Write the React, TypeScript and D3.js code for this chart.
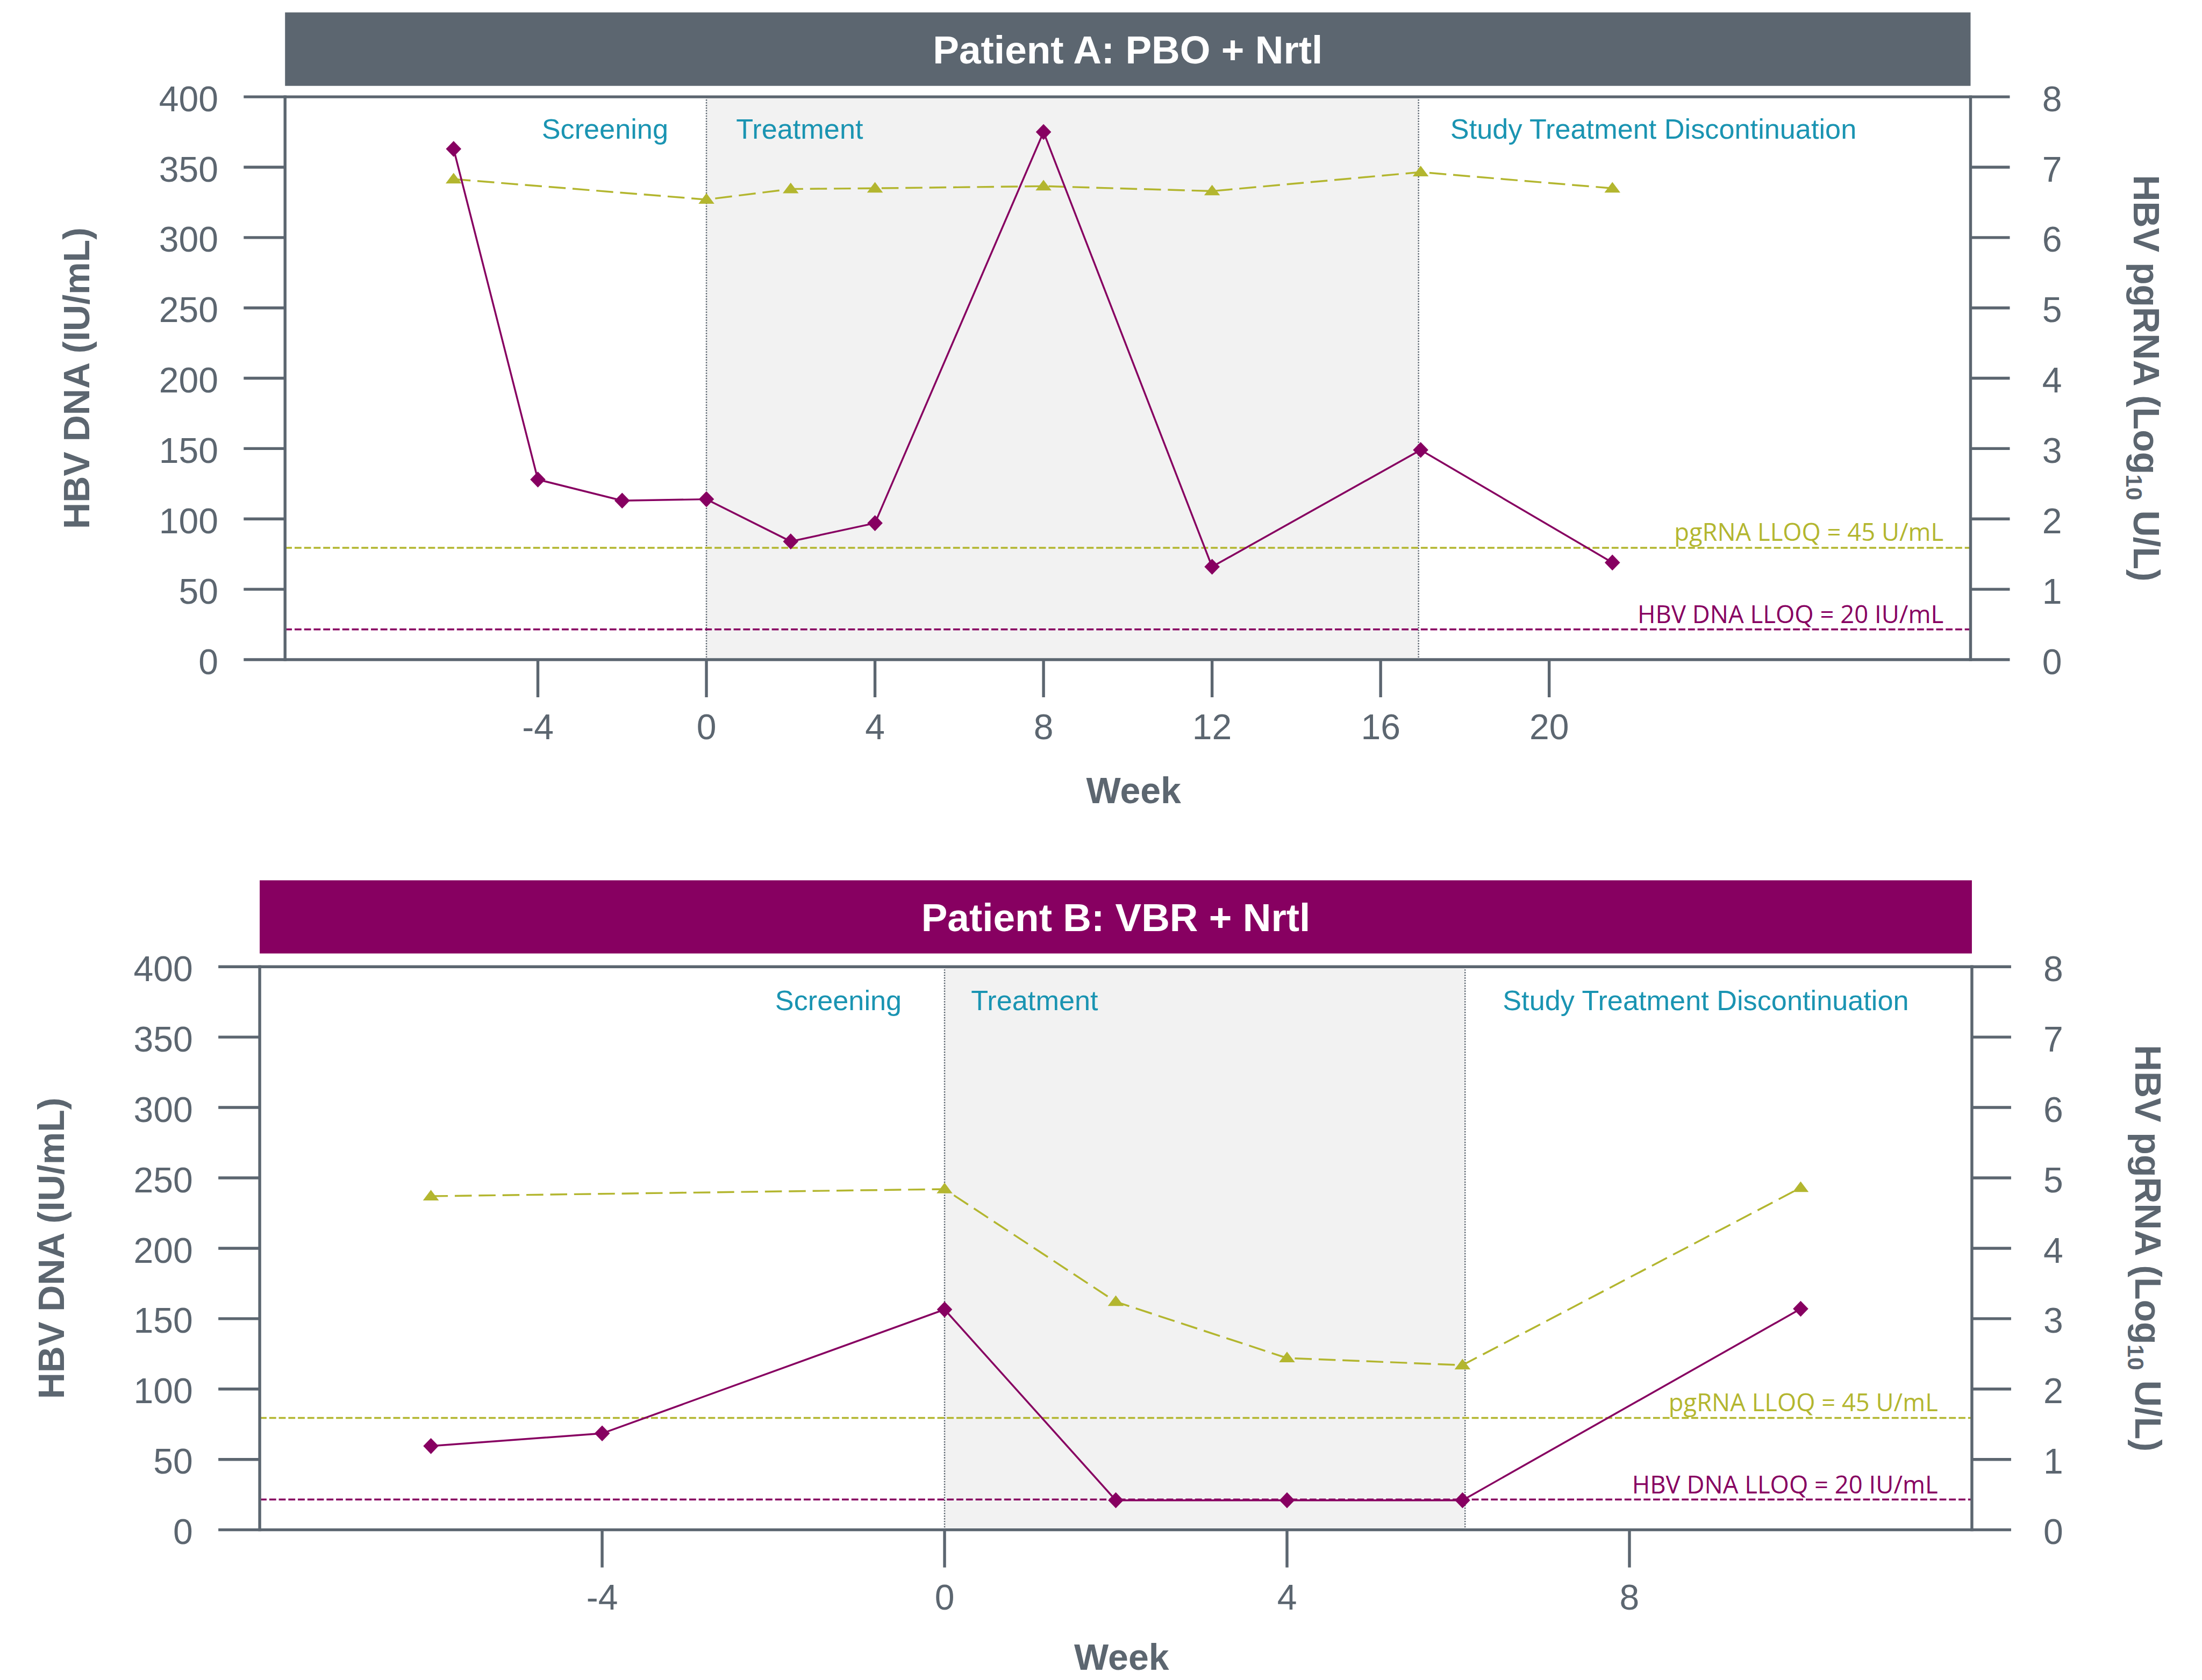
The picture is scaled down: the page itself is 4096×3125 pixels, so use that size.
import React from 'react';
import * as d3 from 'd3';

// ---------- data ----------
const dnaTicks = [0, 50, 100, 150, 200, 250, 300, 350, 400];
const rnaTicks = [0, 1, 2, 3, 4, 5, 6, 7, 8];

const weekTicksA = [-4, 0, 4, 8, 12, 16, 20];
const dnaWeeksA = [-6, -4, -2, 0, 2, 4, 8, 12, 16.95, 21.5];
const dnaA = [363, 128, 113, 114, 84, 97, 375, 66, 149, 69];
const rnaWeeksA = [-6, 0, 2, 4, 8, 12, 16.95, 21.5];
const rnaA = [6.83, 6.54, 6.69, 6.7, 6.73, 6.66, 6.93, 6.7];
const phaseBoundsA = [0, 16.9];

const weekTicksB = [-4, 0, 4, 8];
const dnaWeeksB = [-6, -4, 0, 2, 4, 6.05, 10];
const dnaB = [59.5, 68.5, 156.5, 21, 21, 21, 157];
const rnaWeeksB = [-6, 0, 2, 4, 6.05, 10];
const rnaB = [4.74, 4.84, 3.24, 2.44, 2.34, 4.86];
const phaseBoundsB = [0, 6.08];

const dnaLLOQ = 21.5; // IU/mL axis position of drawn line
const rnaLLOQ = 1.59; // log10 axis position of drawn line
const phaseLabels = ['Screening', 'Treatment', 'Study Treatment Discontinuation'];
const lloqLabels = ['pgRNA LLOQ = 45 U/mL', 'HBV DNA LLOQ = 20 IU/mL'];

// ---------- styles ----------
const GRAY = '#5C6670';
const PURPLE = '#870061';
const OLIVE = '#B3B62F';
const TEAL = '#1A94B2';
const SHADE = '#F2F2F2';
const FONT = '"Liberation Sans", Arial, Helvetica, sans-serif';
const NFONT = '"Open Sans", "Noto Sans", sans-serif';

const panels = [
  {
    title: 'Patient A: PBO + Nrtl',
    barColor: GRAY,
    left: 537.6, right: 3716.5, top: 182.4, bottom: 1243.8,
    barTop: 23.2, barBottom: 161.7,
    xDomain: [-10, 30],
    weekTicks: weekTicksA,
    dnaWeeks: dnaWeeksA, dna: dnaA,
    rnaWeeks: rnaWeeksA, rna: rnaA,
    phase: phaseBoundsA,
    labelOff: [-72, 56, 60], labelBase: 79,
    lloqRight: 51,
    weekBase: 271,
  },
  {
    title: 'Patient B: VBR + Nrtl',
    barColor: PURPLE,
    left: 489.8, right: 3719, top: 1823, bottom: 2885,
    barTop: 1660, barBottom: 1798,
    xDomain: [-8, 12],
    weekTicks: weekTicksB,
    dnaWeeks: dnaWeeksB, dna: dnaB,
    rnaWeeks: rnaWeeksB, rna: rnaB,
    phase: phaseBoundsB,
    labelOff: [-81, 50, 71], labelBase: 82,
    lloqRight: 64,
    weekBase: 264,
  },
];

const DIAMOND = 'M0,-15L14.5,0L0,15L-14.5,0Z';
const TRIANGLE = 'M0,-12L15,8L-15,8Z';

function Panel({ p }: { p: any }) {
  const x = d3.scaleLinear().domain(p.xDomain).range([p.left, p.right]);
  const yL = d3.scaleLinear().domain([0, 400]).range([p.bottom, p.top]);
  const yR = d3.scaleLinear().domain([0, 8]).range([p.bottom, p.top]);

  const dnaPts: [number, number][] = p.dna.map((v: number, i: number) => [x(p.dnaWeeks[i]), yL(v)]);
  const rnaPts: [number, number][] = p.rna.map((v: number, i: number) => [x(p.rnaWeeks[i]), yR(v)]);
  const line = d3.line();

  const x0 = x(p.phase[0]);
  const x1 = x(p.phase[1]);
  const cx = (p.left + p.right) / 2;
  const cy = (p.top + p.bottom) / 2;
  const sw = 5.5;
  const tickFs = 67;
  const titleFs = 69;
  const labelY = p.top + p.labelBase;
  const yRnaLLOQ = yR(rnaLLOQ);
  const yDnaLLOQ = yL(dnaLLOQ);

  return (
    <g>
      {/* title bar */}
      <rect x={p.left} y={p.barTop} width={p.right - p.left} height={p.barBottom - p.barTop} fill={p.barColor} />
      <text x={cx} y={(p.barTop + p.barBottom) / 2 + 26.5} textAnchor="middle" fill="#fff"
        fontFamily={FONT} fontWeight="bold" fontSize={74}>{p.title}</text>

      {/* treatment shading */}
      <rect x={x0} y={p.top} width={x1 - x0} height={p.bottom - p.top} fill={SHADE} />
      {[x0, x1].map((v, i) => (
        <line key={i} x1={v} x2={v} y1={p.top} y2={p.bottom} stroke={GRAY} strokeWidth={2.5} strokeDasharray="2.5,2.5" />
      ))}

      {/* phase labels */}
      <text x={x0 + p.labelOff[0]} y={labelY} textAnchor="end" fill={TEAL} fontFamily={FONT} fontSize={53}>{phaseLabels[0]}</text>
      <text x={x0 + p.labelOff[1]} y={labelY} textAnchor="start" fill={TEAL} fontFamily={FONT} fontSize={53}>{phaseLabels[1]}</text>
      <text x={x1 + p.labelOff[2]} y={labelY} textAnchor="start" fill={TEAL} fontFamily={FONT} fontSize={53}>{phaseLabels[2]}</text>

      {/* LLOQ lines */}
      <line x1={p.left} x2={p.right} y1={yRnaLLOQ} y2={yRnaLLOQ} stroke={OLIVE} strokeWidth={3.5} strokeDasharray="13,5" />
      <line x1={p.left} x2={p.right} y1={yDnaLLOQ} y2={yDnaLLOQ} stroke={PURPLE} strokeWidth={3.5} strokeDasharray="13,5" />
      <text x={p.right - p.lloqRight} y={yRnaLLOQ - 13} textAnchor="end" fill={OLIVE} fontFamily={NFONT} fontSize={47}
        textLength={508} lengthAdjust="spacingAndGlyphs">{lloqLabels[0]}</text>
      <text x={p.right - p.lloqRight} y={yDnaLLOQ - 12} textAnchor="end" fill={PURPLE} fontFamily={NFONT} fontSize={47}
        textLength={577} lengthAdjust="spacingAndGlyphs">{lloqLabels[1]}</text>

      {/* series */}
      <path d={line(rnaPts) || ''} fill="none" stroke={OLIVE} strokeWidth={3.5} strokeDasharray="32,13" />
      <path d={line(dnaPts) || ''} fill="none" stroke={PURPLE} strokeWidth={3.5} />
      {rnaPts.map((pt, i) => (
        <path key={'r' + i} d={TRIANGLE} transform={`translate(${pt[0]},${pt[1]})`} fill={OLIVE} />
      ))}
      {dnaPts.map((pt, i) => (
        <path key={'d' + i} d={DIAMOND} transform={`translate(${pt[0]},${pt[1]})`} fill={PURPLE} />
      ))}

      {/* frame */}
      <line x1={p.left} x2={p.right} y1={p.top} y2={p.top} stroke={GRAY} strokeWidth={sw} />
      <line x1={p.left} x2={p.right} y1={p.bottom} y2={p.bottom} stroke={GRAY} strokeWidth={sw} />
      <line x1={p.left} x2={p.left} y1={p.top - sw / 2} y2={p.bottom + sw / 2} stroke={GRAY} strokeWidth={sw} />
      <line x1={p.right} x2={p.right} y1={p.top - sw / 2} y2={p.bottom + sw / 2} stroke={GRAY} strokeWidth={sw} />

      {/* left axis */}
      {dnaTicks.map((t) => (
        <g key={'l' + t}>
          <line x1={p.left - 78} x2={p.left} y1={yL(t)} y2={yL(t)} stroke={GRAY} strokeWidth={sw} />
          <text x={p.left - 126} y={yL(t) + 27} textAnchor="end" fill={GRAY} fontFamily={FONT} fontSize={tickFs}>{t}</text>
        </g>
      ))}
      {/* right axis */}
      {rnaTicks.map((t) => (
        <g key={'r' + t}>
          <line x1={p.right} x2={p.right + 74} y1={yR(t)} y2={yR(t)} stroke={GRAY} strokeWidth={sw} />
          <text x={p.right + 135} y={yR(t) + 27} textAnchor="start" fill={GRAY} fontFamily={FONT} fontSize={tickFs}>{t}</text>
        </g>
      ))}
      {/* x axis */}
      {p.weekTicks.map((t: number) => (
        <g key={'x' + t}>
          <line x1={x(t)} x2={x(t)} y1={p.bottom} y2={p.bottom + 71} stroke={GRAY} strokeWidth={sw} />
          <text x={x(t)} y={p.bottom + 150} textAnchor="middle" fill={GRAY} fontFamily={FONT} fontSize={tickFs}>{t}</text>
        </g>
      ))}

      {/* axis titles */}
      <text x={cx + 11} y={p.bottom + p.weekBase} textAnchor="middle" fill={GRAY} fontFamily={FONT} fontWeight="bold" fontSize={titleFs}>Week</text>
      <text transform={`translate(${p.left - 393},${cy}) rotate(-90)`} dy="0.35em" textAnchor="middle" fill={GRAY}
        fontFamily={FONT} fontWeight="bold" fontSize={titleFs}>HBV DNA (IU/mL)</text>
      <text transform={`translate(${p.right + 332},${cy}) rotate(90)`} dy="0.35em" textAnchor="middle" fill={GRAY}
        fontFamily={FONT} fontWeight="bold" fontSize={titleFs}>
        HBV pgRNA (Log<tspan fontSize={44} dy={14}>10</tspan><tspan dy={-14}> U/L)</tspan>
      </text>
    </g>
  );
}

export default function App() {
  return (
    <svg width={4096} height={3125} viewBox="0 0 4153 3168"
      style={{ position: 'absolute', left: 0, top: 0, display: 'block', background: '#fff' }}>
      <rect x={0} y={0} width={4153} height={3168} fill="#fff" />
      {panels.map((p, i) => <Panel key={i} p={p} />)}
    </svg>
  );
}
